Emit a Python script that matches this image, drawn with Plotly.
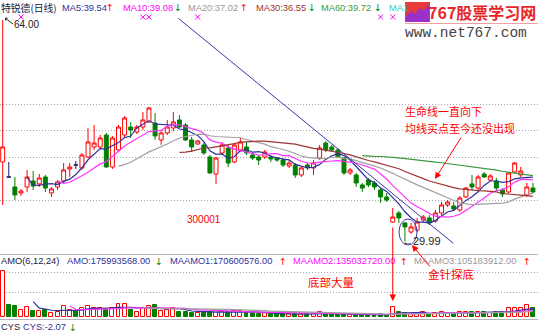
import plotly.graph_objects as go
import pandas as pd

W, H = 538, 332

# ---------------- data ----------------
opens = [42.20, 39.89, 38.36, 37.44, 38.36, 39.28, 38.82, 39.89, 37.44, 38.36,
         39.28, 41.12, 41.74, 41.28, 42.96, 44.50, 44.50, 46.34, 41.43, 44.04,
         46.34, 47.57, 46.80, 47.57, 48.34, 48.18, 45.57, 46.65, 47.42, 48.65,
         47.88, 45.57, 44.96, 44.81, 42.96, 40.35, 43.58, 44.35, 42.20, 44.04,
         44.50, 43.27, 42.96, 42.96, 42.96, 42.81, 42.50, 41.58, 41.74, 40.20,
         41.74, 41.28, 42.81, 45.11, 44.50, 44.04, 42.81, 40.51, 40.20, 38.67,
         39.43, 38.97, 37.90, 36.82, 32.98, 34.37, 32.83, 31.45, 31.76, 33.29,
         33.60, 33.14, 34.37, 35.59, 35.44, 34.83, 36.82, 38.82, 38.20, 40.35,
         39.43, 39.28, 37.90, 37.59, 40.66, 40.20, 37.13, 38.20]
highs = [64.00, 42.20, 39.89, 38.05, 40.97, 40.81, 40.35, 40.20, 38.36, 39.43,
         42.04, 42.04, 42.35, 43.58, 47.42, 47.88, 46.34, 46.65, 46.19, 47.88,
         49.26, 48.34, 47.88, 49.87, 50.64, 49.72, 47.11, 48.65, 49.87, 49.41,
         48.18, 46.04, 45.57, 45.11, 43.27, 42.96, 45.27, 44.81, 45.11, 45.88,
         45.27, 43.73, 43.27, 44.04, 43.27, 42.96, 42.81, 42.50, 42.04, 41.43,
         42.04, 42.50, 44.81, 45.42, 44.81, 44.35, 42.96, 41.28, 40.51, 38.97,
         39.74, 39.28, 38.20, 37.44, 35.13, 34.67, 32.98, 32.83, 33.60, 34.06,
         34.06, 34.83, 36.05, 36.36, 36.05, 36.98, 38.36, 40.20, 40.20, 40.66,
         40.35, 39.74, 38.20, 40.66, 42.20, 41.43, 38.97, 38.97]
lows = [35.59, 39.89, 36.36, 36.98, 37.59, 37.90, 38.36, 37.59, 36.82, 37.90,
        38.97, 39.89, 41.12, 40.97, 42.81, 44.04, 44.19, 41.28, 41.12, 43.73,
        46.04, 45.88, 46.50, 47.11, 48.18, 45.57, 44.81, 46.34, 46.96, 47.42,
        45.42, 43.73, 44.81, 43.27, 40.35, 38.82, 43.27, 41.43, 42.04, 43.73,
        43.27, 42.50, 41.74, 42.66, 42.20, 42.20, 41.43, 41.28, 39.74, 39.89,
        40.97, 40.20, 42.50, 43.73, 43.73, 42.81, 40.20, 40.20, 38.36, 37.59,
        38.36, 37.90, 35.90, 36.05, 32.83, 32.83, 29.99, 31.14, 31.45, 32.83,
        32.52, 32.83, 34.06, 35.29, 34.67, 34.52, 36.67, 37.90, 37.90, 39.74,
        39.28, 37.90, 36.82, 37.44, 40.51, 39.89, 36.82, 37.44]
closes = [44.50, 39.89, 37.13, 37.74, 39.89, 38.51, 39.74, 38.20, 38.05, 39.13,
          40.97, 41.43, 41.74, 43.27, 45.27, 45.11, 45.88, 41.43, 45.88, 47.57,
          48.95, 47.11, 47.57, 48.65, 50.49, 46.19, 46.65, 47.57, 48.34, 47.57,
          45.57, 44.50, 45.42, 43.58, 40.51, 42.81, 44.81, 42.04, 44.81, 45.27,
          43.58, 42.81, 42.50, 43.73, 42.66, 42.50, 41.74, 42.04, 40.20, 41.28,
          41.28, 42.04, 44.35, 44.04, 44.04, 42.96, 40.51, 40.97, 38.97, 38.20,
          38.67, 38.36, 36.82, 36.36, 33.75, 33.60, 32.22, 32.22, 32.98, 33.75,
          32.83, 34.37, 35.59, 36.05, 34.98, 36.67, 38.20, 38.36, 39.89, 39.89,
          40.05, 38.20, 37.28, 40.51, 42.04, 40.81, 38.36, 37.59]
# turnover (AMO), millions of yuan
amount = [935, 242, 222, 141, 208, 127, 127, 141, 75, 107,
          222, 141, 121, 176, 232, 182, 182, 141, 182, 263,
          263, 141, 107, 182, 228, 242, 121, 141, 182, 101,
          101, 81, 81, 101, 107, 121, 107, 101, 121, 121,
          101, 81, 55, 81, 55, 55, 55, 55, 67, 67,
          55, 67, 107, 55, 55, 40, 55, 40, 40, 40,
          40, 40, 55, 40, 202, 95, 75, 55, 55, 95,
          67, 75, 95, 75, 55, 95, 95, 107, 107, 95,
          75, 107, 95, 176, 176, 176, 242, 175.99]

ma_periods = [5, 10, 20, 30, 60]
ma_colors = ["#30309a", "#ff33ff", "#a0a0a0", "#9c3434", "#3a9a3a"]
amo_periods = [6, 12, 24]
amo_colors = ["#30309a", "#ff33ff", "#a0a0a0"]

price_labels = ["MA5:39.54", "MA10:39.08", "MA20:37.02", "MA30:36.55", "MA60:39.72", "MA1"]
price_label_colors = ["#30309a", "#ff00ff", "#999999", "#9c3434", "#3a9a3a", "#33cccc"]
price_label_dirs = ["up", "down", "up", "down", "down", None]
amo_labels = ["AMO:175993568.00", "MAAMO1:170600576.00", "MAAMO2:135032720.00", "MAAMO3:105183912.00"]
amo_label_colors = ["#30309a", "#30309a", "#ff00ff", "#999999"]
amo_label_dirs = ["down", "up", "up", "up"]
signal_idx = [3, 23, 24, 32, 62, 64]
grid_prices = [36.21, 42.96, 46.96, 50.95]
grid_amounts = [485, 909]

RED = "#ff0000"
GREEN = "#008000"
LATIN = "Liberation Sans, Arial, sans-serif"
CJK = "Noto Sans CJK SC, sans-serif"
LEG = 9.3

n = len(closes)
x = list(range(n))
doji = [o == c for o, c in zip(opens, closes)]


def pick(arr, keep):
    return [v if k else None for v, k in zip(arr, keep)]


fig = go.Figure()
not_doji = [not d for d in doji]
fig.add_trace(go.Candlestick(
    x=x, open=pick(opens, not_doji), high=pick(highs, not_doji),
    low=pick(lows, not_doji), close=pick(closes, not_doji),
    increasing=dict(line=dict(color=RED, width=1), fillcolor="#ffffff"),
    decreasing=dict(line=dict(color=GREEN, width=1), fillcolor=GREEN),
    whiskerwidth=0, hoverinfo="skip", yaxis="y"))
fig.add_trace(go.Candlestick(
    x=x, open=pick(opens, doji), high=pick(highs, doji),
    low=pick(lows, doji), close=pick(closes, doji),
    increasing=dict(line=dict(color="#202060", width=1), fillcolor="#202060"),
    decreasing=dict(line=dict(color="#202060", width=1), fillcolor="#202060"),
    whiskerwidth=0, hoverinfo="skip", yaxis="y"))

cs = pd.Series(closes)
for p, col in zip(ma_periods, ma_colors):
    fig.add_trace(go.Scatter(x=x, y=cs.rolling(p).mean(), mode="lines",
                             line=dict(color=col, width=1.2), yaxis="y", hoverinfo="skip"))

fig.add_trace(go.Scatter(x=signal_idx, y=[64.46] * len(signal_idx), mode="markers",
                         marker=dict(symbol="x-thin", size=5, line=dict(color="#ff00ff", width=1)),
                         yaxis="y", hoverinfo="skip"))

up = [c > o for o, c in zip(opens, closes)]
fig.add_trace(go.Bar(x=x, y=amount, width=0.65, yaxis="y2",
                     marker=dict(color=["#ffffff" if u else GREEN for u in up],
                                 line=dict(color=[RED if u else GREEN for u in up], width=1)),
                     hoverinfo="skip"))
am = pd.Series(amount)
for p, col in zip(amo_periods, amo_colors):
    fig.add_trace(go.Scatter(x=x, y=am.rolling(p).mean(), mode="lines",
                             line=dict(color=col, width=1.2), yaxis="y2", hoverinfo="skip"))


def X(px):
    return px / W


def Y(py):
    return 1 - py / H


def txt(px, py, text, color, size, family=LATIN, xanchor="left", align="left"):
    return dict(x=X(px), y=Y(py), xref="paper", yref="paper", text=text, showarrow=False,
                xanchor=xanchor, yanchor="middle", borderpad=0, align=align,
                font=dict(color=color, size=size, family=family))


def arrow_glyph(px, py, d):
    return txt(px, py, "↑" if d == "up" else "↓", RED if d == "up" else GREEN, 9.5,
               "DejaVu Sans, sans-serif", "center")


anns = []
# top legend row
anns.append(txt(0, 8, "特锐德(日线)", "#1a1a3a", 9.8, CJK))
p_x = [61, 122, 187, 255, 320, 388]
p_ax = [110, 178, 244, 311.5, 377.5, None]
for lab, col, d, px, ax_ in zip(price_labels, price_label_colors, price_label_dirs, p_x, p_ax):
    anns.append(txt(px, 8, lab, col, LEG))
    if d:
        anns.append(arrow_glyph(ax_, 8, d))
# volume legend row
anns.append(txt(0, 261, "AMO(6,12,24)", "#1a1a3a", LEG))
a_x = [66, 169, 292, 413]
a_ax = [159, 283, 404, 527]
for lab, col, d, px, ax_ in zip(amo_labels, amo_label_colors, amo_label_dirs, a_x, a_ax):
    anns.append(txt(px, 261, lab, col, LEG))
    anns.append(arrow_glyph(ax_, 261, d))
# bottom row
anns.append(txt(0, 327, "CYS", "#1a1a3a", LEG))
anns.append(txt(22, 327, "CYS:-2.07", "#30309a", LEG))
anns.append(arrow_glyph(73, 327, "down"))

# labels on the price panel
anns.append(dict(x=X(5), y=Y(18), xref="paper", yref="paper", text="64.00", showarrow=True,
                 ax=8, ay=6, xanchor="left", yanchor="middle", arrowhead=1, arrowsize=0.7,
                 arrowwidth=1, arrowcolor="#222222", borderpad=0,
                 font=dict(color="#222222", size=10, family=LATIN)))
anns.append(txt(401, 241, "←29.99", "#222222", 11))
anns.append(txt(186, 219, "300001", RED, 10))
anns.append(txt(404, 111, "生命线一直向下", RED, 11, CJK))
anns.append(txt(404, 128, "均线买点至今还没出现", RED, 11, CJK))
anns.append(txt(307, 282, "底部大量", RED, 11.5, CJK))
anns.append(txt(427, 274, "金针探底", RED, 11.5, CJK))
anns.append(dict(x=X(435), y=Y(179), xref="paper", yref="paper", text="", showarrow=True,
                 ax=27, ay=-43, arrowhead=2, arrowsize=1.3, arrowwidth=1, arrowcolor=RED))
anns.append(dict(x=X(412), y=Y(245), xref="paper", yref="paper", text="", showarrow=True,
                 ax=19, ay=23, arrowhead=2, arrowsize=1.3, arrowwidth=1, arrowcolor=RED))
anns.append(dict(x=64, y=Y(301), xref="x", yref="paper", text="", showarrow=True,
                 ax=0, ay=-75, arrowhead=2, arrowsize=1.3, arrowwidth=1, arrowcolor=RED))
# logo
anns.append(txt(537, 12, "<b>767股票学习网</b>", "#e8262a", 16, CJK, "right"))
anns.append(txt(404, 33, "www.net767.com", "#444444", 14.5, "Liberation Mono, DejaVu Sans Mono, monospace"))

shapes = [
    dict(type="line", xref="paper", yref="paper", x0=0, x1=1, y0=Y(254.5), y1=Y(254.5),
         line=dict(color="#b4b4b4", width=1)),
    dict(type="line", xref="paper", yref="paper", x0=0, x1=1, y0=Y(319.5), y1=Y(319.5),
         line=dict(color="#b4b4b4", width=1)),
    # trend line
    dict(type="line", xref="paper", yref="paper", x0=X(178.3), y0=Y(18.3), x1=X(453.3), y1=Y(243.3),
         line=dict(color="#3838a8", width=1)),
    # ellipse around the needle bottom
    dict(type="circle", xref="paper", yref="paper", x0=X(399), x1=X(417), y0=Y(245), y1=Y(219),
         line=dict(color="#3a3aaa", width=1)),
    # logo
    dict(type="rect", xref="paper", yref="paper", x0=X(405), x1=X(430), y0=Y(22), y1=Y(2),
         fillcolor="#e83a3a", line=dict(width=0)),
    dict(type="path", xref="paper", yref="paper",
         path="M {} {} L {} {} L {} {} L {} {} L {} {} L {} {} L {} {} L {} {} Z".format(
             X(406), Y(22), X(406), Y(16), X(411), Y(11), X(415), Y(14), X(420), Y(8),
             X(424), Y(11), X(429), Y(4), X(429), Y(22)),
         fillcolor="#9b30c8", line=dict(width=0)),
    dict(type="line", xref="paper", yref="paper", x0=X(405), x1=1, y0=Y(23.5), y1=Y(23.5),
         line=dict(color="#f2a0a0", width=1)),
]

fig.update_layout(
    width=W, height=H, margin=dict(l=0, r=0, t=0, b=0),
    paper_bgcolor="white", plot_bgcolor="white", showlegend=False,
    boxgap=0.35, boxgroupgap=0, bargap=0,
    xaxis=dict(range=[-0.443, 87.83], visible=False, rangeslider=dict(visible=False), fixedrange=True),
    yaxis=dict(domain=[Y(253), Y(14)], range=[28.22, 64.92], tickvals=grid_prices,
               showticklabels=False, ticks="", showline=False, zeroline=False,
               showgrid=True, gridcolor="#a8a8a8", griddash="1px,2px", gridwidth=1),
    yaxis2=dict(domain=[Y(317), Y(265)], range=[0, 1050.4], tickvals=grid_amounts, anchor="x",
                showticklabels=False, ticks="", showline=False, zeroline=False,
                showgrid=True, gridcolor="#a8a8a8", griddash="1px,2px", gridwidth=1),
    annotations=anns, shapes=shapes,
)

fig.write_html("out.html")
